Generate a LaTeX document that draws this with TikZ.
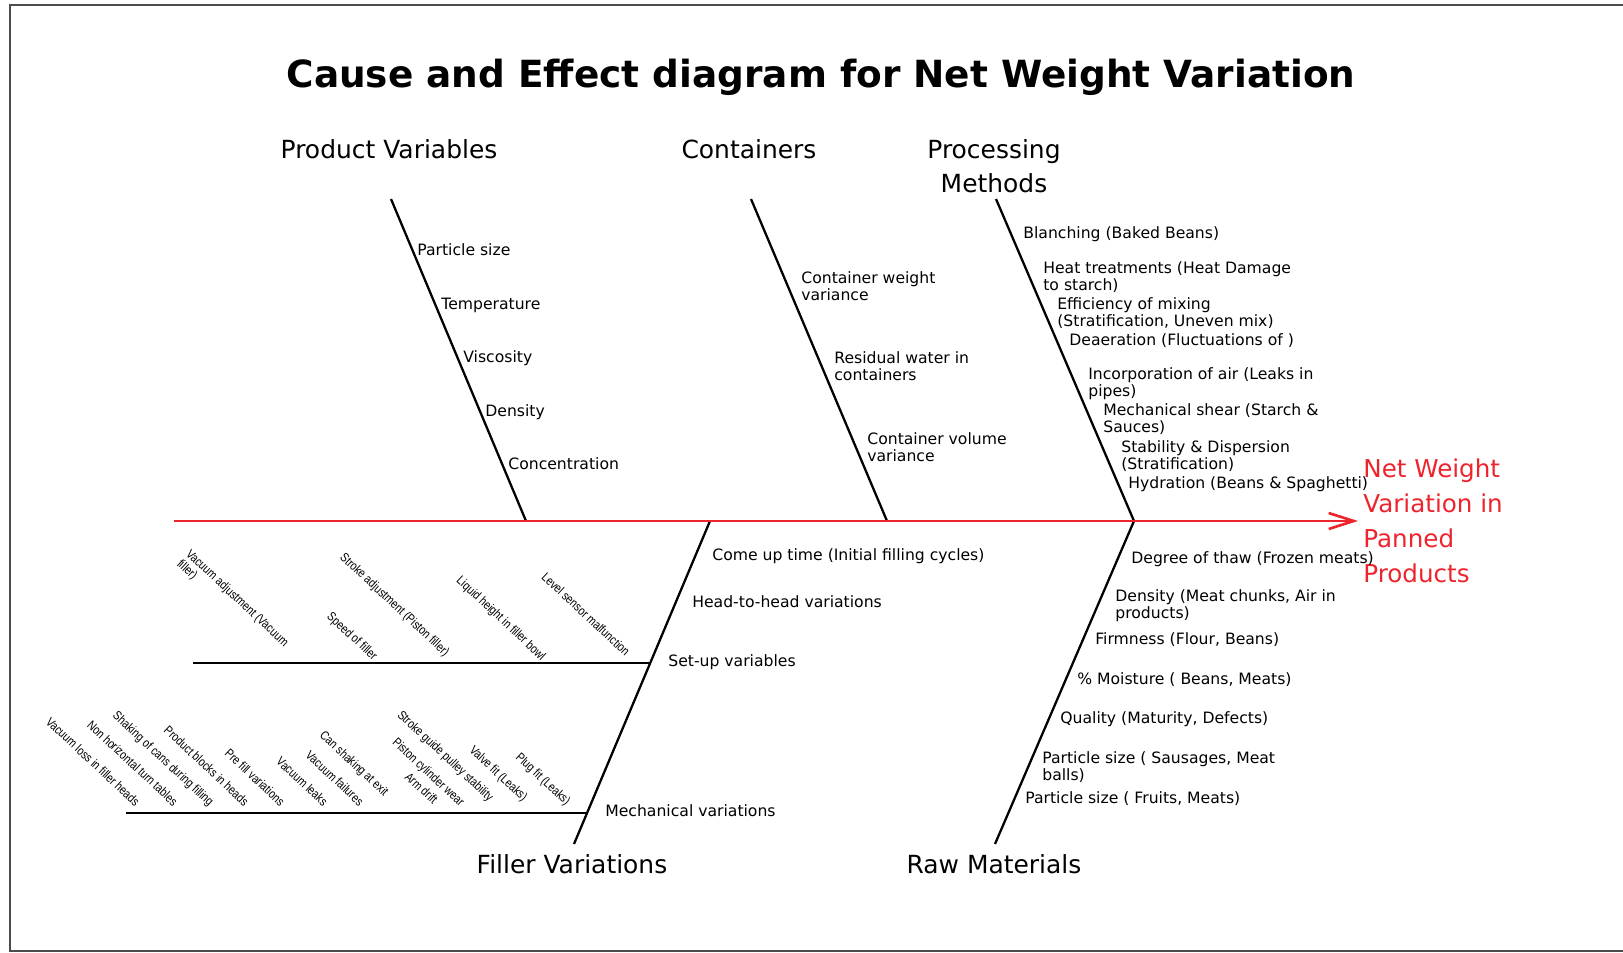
\documentclass[tikz,border=0pt]{standalone}
\usepackage{fontspec}
\setmainfont{DejaVu Sans}
\newfontfamily\narrowfont[FakeStretch=0.82]{Liberation Sans}
\usetikzlibrary{arrows.meta}
\definecolor{effectred}{RGB}{238,36,44}

\begin{document}
\begin{tikzpicture}[
    x=0.02cm, y=-0.02cm,
    bone/.style={line width=1.3pt, black},
    spine/.style={line width=1.5pt, effectred, -{Straight Barb[length=5mm, width=3.2mm]}},
    cause/.style={font=\fontsize{14.2}{19.3}\selectfont, align=center, inner sep=0pt},
    item/.style={anchor=west, align=left, inner sep=0pt, font=\fontsize{8.9}{9.6}\selectfont},
    tilted/.style={anchor=base east, rotate=-43, inner sep=0pt, align=left, font=\narrowfont\fontsize{7.2}{7.6}\selectfont}
]
    \useasboundingbox (0,0) rectangle (1623,953);
    % Frame
    \draw[gray!60!black, line width=1pt] (1623,5) -- (10,5) -- (10,951) -- (1623,951);

    % Title and effect
    \node[font=\bfseries\fontsize{21.3}{25}\selectfont, anchor=base] (title) at (821,88) {Cause and Effect diagram for Net Weight Variation};
    \node[anchor=west, align=left, inner sep=0pt, text=effectred, font=\fontsize{14}{19.8}\selectfont] (effect) at (1363,521) {Net Weight\\Variation in\\Panned\\Products};

    % Cause labels
    \node[cause, anchor=base] (pv) at (389,158) {Product Variables};
    \node[cause, anchor=base] (ct) at (749,158) {Containers};
    \node[cause] (pm) at (994,166) {Processing\\Methods};
    \node[cause, anchor=base] (fv) at (572,873) {Filler Variations};
    \node[cause, anchor=base] (rm) at (994,873) {Raw Materials};

    % Bone ends
    \coordinate (tail) at (174,521);
    \coordinate (head) at (1358,521);
    \coordinate (pvtop) at (391,199);
    \coordinate (pvjoin) at (526,521);
    \coordinate (cttop) at (751,199);
    \coordinate (ctjoin) at (887,521);
    \coordinate (pmtop) at (996,199);
    \coordinate (pmjoin) at (1134,521);
    \coordinate (fvjoin) at (710,521);
    \coordinate (fvend) at (574,844);
    \coordinate (rmend) at (995,844);
    \coordinate (sutail) at (193,663);
    \coordinate (suhead) at (650,663);
    \coordinate (mvtail) at (126,813);
    \coordinate (mvhead) at (587,813);

    % Edges
    \draw[bone] (pvtop) -- (pvjoin);
    \draw[bone] (cttop) -- (ctjoin);
    \draw[bone] (pmtop) -- (pmjoin);
    \draw[bone] (fvjoin) -- (fvend);
    \draw[bone] (pmjoin) -- (rmend);
    \draw[bone] (sutail) -- (suhead);
    \draw[bone] (mvtail) -- (mvhead);
    \draw[spine] (tail) -- (head);

    % Product variables
    \node[item] (pv1) at (417,250) {Particle size};
    \node[item] (pv2) at (441,305) {Temperature};
    \node[item] (pv3) at (463,358) {Viscosity};
    \node[item] (pv4) at (485,412) {Density};
    \node[item] (pv5) at (508,464) {Concentration};

    % Containers
    \node[item] (ct1) at (801,286) {Container weight\\variance};
    \node[item] (ct2) at (834,366) {Residual water in\\containers};
    \node[item] (ct3) at (867,447) {Container volume\\variance};

    % Processing methods
    \node[item] (pm1) at (1023,234) {Blanching (Baked Beans)};
    \node[item] (pm2) at (1043,277) {Heat treatments (Heat Damage\\to starch)};
    \node[item] (pm3) at (1057,313) {Efficiency of mixing\\(Stratification, Uneven mix)};
    \node[item] (pm4) at (1069,341) {Deaeration (Fluctuations of )};
    \node[item] (pm5) at (1088,384) {Incorporation of air (Leaks in\\pipes)};
    \node[item] (pm6) at (1103,419) {Mechanical shear (Starch \&\\Sauces)};
    \node[item] (pm7) at (1121,456) {Stability \& Dispersion\\(Stratification)};
    \node[item] (pm8) at (1128,484) {Hydration (Beans \& Spaghetti)};

    % Raw materials
    \node[item] (rm1) at (1131,559) {Degree of thaw (Frozen meats)};
    \node[item] (rm2) at (1115,606) {Density (Meat chunks, Air in\\products)};
    \node[item] (rm3) at (1095,640) {Firmness (Flour, Beans)};
    \node[item] (rm4) at (1077,680) {\% Moisture ( Beans, Meats)};
    \node[item] (rm5) at (1060,719) {Quality (Maturity, Defects)};
    \node[item] (rm6) at (1042,767) {Particle size ( Sausages, Meat\\balls)};
    \node[item] (rm7) at (1025,799) {Particle size ( Fruits, Meats)};

    % Filler variations
    \node[item] (fv1) at (712,556) {Come up time (Initial filling cycles)};
    \node[item] (fv2) at (692,602) {Head-to-head variations};
    \node[item] (fv3) at (668,662) {Set-up variables};
    \node[item] (fv4) at (605,811) {Mechanical variations};

    % Set-up variables
    \node[tilted] (su1) at (275,657) {Vacuum adjustment (Vacuum\\filler)};
    \node[tilted] (su2) at (445,657) {Stroke adjustment (Piston filler)};
    \node[tilted] (su3) at (373,661) {Speed of filler};
    \node[tilted] (su4) at (541,661) {Liquid height in filler bowl};
    \node[tilted] (su5) at (625,657) {Level sensor malfunction};

    % Mechanical variations
    \node[tilted] (mv1) at (135,807) {Vacuum loss in filler heads};
    \node[tilted] (mv2) at (173,807) {Non horizontal turn tables};
    \node[tilted] (mv3) at (209,807) {Shaking of cans during filling};
    \node[tilted] (mv4) at (244,807) {Product blocks in heads};
    \node[tilted] (mv5) at (280,807) {Pre fill variations};
    \node[tilted] (mv6) at (323,807) {Vacuum leaks};
    \node[tilted] (mv7) at (359,807) {Vacuum failures};
    \node[tilted] (mv8) at (384,797) {Can shaking at exit};
    \node[tilted] (mv9) at (489,802) {Stroke guide pulley stability};
    \node[tilted] (mv10) at (460,807) {Piston cylinder wear};
    \node[tilted] (mv11) at (433,805) {Arm drift};
    \node[tilted] (mv12) at (523,802) {Valve fit (Leaks)};
    \node[tilted] (mv13) at (566,806) {Plug fit (Leaks)};
\end{tikzpicture}
\end{document}
